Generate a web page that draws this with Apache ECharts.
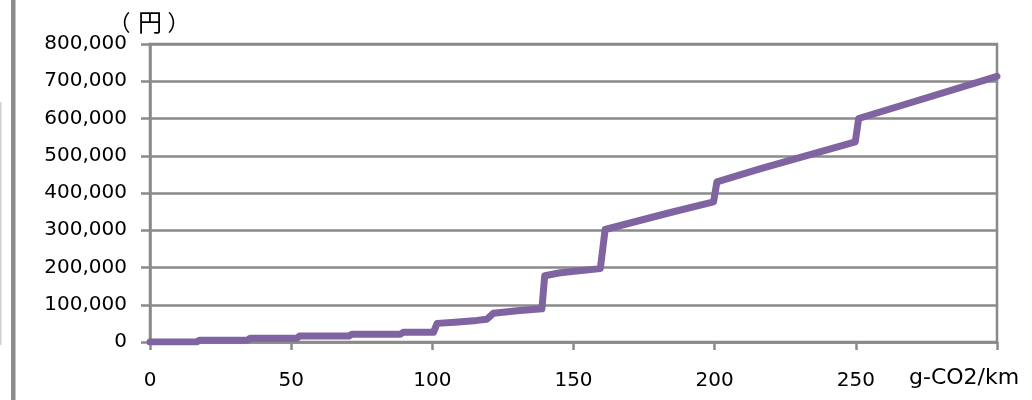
<!DOCTYPE html>
<html>
<head>
<meta charset="utf-8">
<script src="https://cdn.jsdelivr.net/npm/echarts@6/dist/echarts.min.js"></script>
<style>
html,body{margin:0;padding:0;background:#fff;}
#chart{width:1032px;height:400px;}
</style>
</head>
<body>
<div id="chart"></div>
<script>
// Emission (g-CO2/km) and amount (円)
const emissions = [0, 16.5, 17.5, 34.5, 35.5, 52, 53, 70.5, 71.5, 88.7, 89.7, 100.4, 101.7, 108, 115.8, 119.3, 121.6, 130, 138.8, 139.8, 145.3, 159.5, 161.2, 184, 199.6, 200.8, 216, 249.8, 251, 300];
const amounts   = [0, 0, 5000, 5000, 10000, 10000, 16000, 16000, 21000, 21000, 26000, 26000, 50000, 53000, 58000, 61000, 77000, 84000, 89000, 178000, 186000, 197000, 302000, 347000, 376000, 430000, 465000, 537000, 600000, 713000];
const xTicks = [0, 50, 100, 150, 200, 250];
const yTicks = [0, 100000, 200000, 300000, 400000, 500000, 600000, 700000, 800000];
const yUnitParts = ['（', '円', '）'];
const xUnit = 'g-CO2/km';

const seriesData = emissions.map((x, i) => [x, amounts[i]]);
const gray = '#8a8a8a';
const font = 'DejaVu Sans';
const cjk = '"Noto Sans CJK JP"';

const chart = echarts.init(document.getElementById('chart'), null, {renderer: 'canvas'});
chart.setOption({
  animation: false,
  backgroundColor: '#fff',
  grid: {left: 150, right: 35, top: 44, bottom: 58, show: true, borderColor: gray, borderWidth: 2.5, containLabel: false},
  xAxis: {
    type: 'value', min: 0, max: 300, interval: 50,
    axisLine: {show: true, lineStyle: {color: gray, width: 2.5}},
    axisTick: {show: true, length: 8, lineStyle: {color: gray, width: 2.5}},
    splitLine: {show: false},
    axisLabel: {
      margin: 29, color: '#000', fontFamily: font, fontSize: 20,
      formatter: v => xTicks.includes(v) ? String(v) : ''
    }
  },
  yAxis: {
    type: 'value', min: 0, max: 800000, interval: 100000,
    axisLine: {show: true, lineStyle: {color: gray, width: 2.5}},
    axisTick: {show: true, length: 9, lineStyle: {color: gray, width: 2.5}},
    splitLine: {show: true, lineStyle: {color: gray, width: 2.5}},
    axisLabel: {
      margin: 23, color: '#000', fontFamily: font, fontSize: 20,
      formatter: v => yTicks.includes(v) ? v.toLocaleString('en-US') : ''
    }
  },
  graphic: [
    {type: 'rect', left: 11, top: 0, shape: {width: 4.5, height: 400}, style: {fill: '#8c8c8c'}, silent: true},
    {type: 'rect', left: 0, top: 102, shape: {width: 1.5, height: 243}, style: {fill: '#cfcfcf'}, silent: true},
    {type: 'text', x: 119.5, y: 22, silent: true, style: {text: yUnitParts[0], fill: '#000', font: '22px ' + cjk, align: 'center', verticalAlign: 'middle'}},
    {type: 'text', x: 150, y: 22, silent: true, style: {text: yUnitParts[1], fill: '#000', font: '24px ' + cjk, align: 'center', verticalAlign: 'middle'}},
    {type: 'text', x: 178.5, y: 22, silent: true, style: {text: yUnitParts[2], fill: '#000', font: '22px ' + cjk, align: 'center', verticalAlign: 'middle'}},
    {type: 'text', left: 909, top: 367, style: {text: xUnit, fill: '#000', font: '22px "DejaVu Sans"'}, silent: true}
  ],
  series: [{
    type: 'line',
    data: seriesData,
    showSymbol: false,
    symbol: 'none',
    lineStyle: {color: '#8064A2', width: 7, join: 'round', cap: 'round'},
    itemStyle: {color: '#8064A2'}
  }]
});
</script>
</body>
</html>
